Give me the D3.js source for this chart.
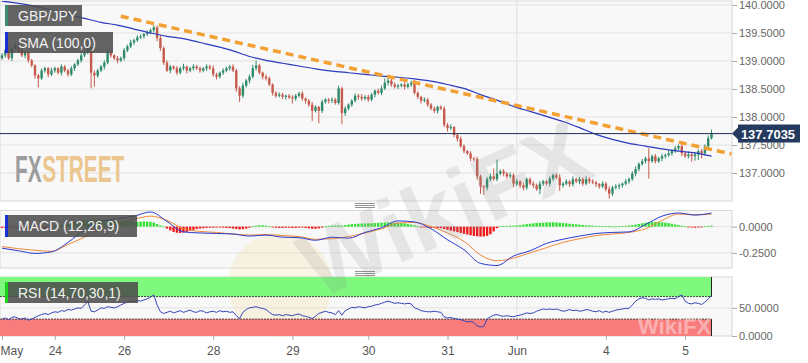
<!DOCTYPE html>
<html>
<head>
<meta charset="utf-8">
<script src="https://cdn.jsdelivr.net/npm/d3@7"></script>
<style>
  body { margin: 0; background: #fff; }
  svg { display: block; font-family: "Liberation Sans", Arial, sans-serif; }
</style>
</head>
<body>
<script>
// hourly GBP/JPY closes
const closes = [
  139.10,139.19,139.05,139.23,139.28,139.19,139.10,139.15,139.01,138.92,
  138.74,138.69,138.83,138.87,138.76,138.83,138.87,138.79,138.90,138.83,
  138.76,138.87,138.94,139.01,139.10,139.15,139.24,138.79,138.74,138.83,
  138.90,138.97,139.15,139.10,139.05,139.01,139.05,139.19,139.26,139.33,
  139.37,139.42,139.44,139.48,139.51,139.55,139.60,139.41,139.23,138.97,
  138.83,138.90,138.87,138.79,138.87,138.90,138.83,138.87,138.90,138.87,
  138.83,138.87,138.90,138.87,138.76,138.72,138.79,138.83,138.87,138.90,
  138.83,138.51,138.38,138.56,138.65,138.72,138.87,138.92,138.79,138.72,
  138.69,138.58,138.43,138.38,138.40,138.36,138.38,138.35,138.33,138.38,
  138.42,138.33,138.29,138.22,138.11,138.18,138.11,138.27,138.31,138.29,
  138.31,138.25,138.51,138.07,138.15,138.22,138.29,138.38,138.36,138.33,
  138.36,138.31,138.40,138.47,138.43,138.51,138.61,138.65,138.58,138.54,
  138.56,138.58,138.54,138.58,138.61,138.43,138.36,138.29,138.31,138.22,
  138.15,138.11,138.18,138.15,137.86,137.80,137.82,137.68,137.61,137.48,
  137.39,137.35,137.26,137.25,136.94,136.76,136.74,136.89,136.94,136.89,
  136.99,137.03,136.99,136.94,136.96,136.81,136.85,136.78,136.74,136.89,
  136.81,136.78,136.71,136.81,136.85,136.81,136.90,136.96,136.92,136.78,
  136.81,136.85,136.80,136.89,136.85,136.89,136.81,136.89,136.85,136.83,
  136.80,136.76,136.81,136.71,136.63,136.74,136.76,136.78,136.81,136.85,
  136.89,136.99,137.07,137.16,137.21,137.26,137.21,137.30,137.21,137.26,
  137.30,137.32,137.35,137.39,137.44,137.48,137.35,137.30,137.33,137.30,
  137.33,137.39,137.35,137.48,137.62,137.7035
];
const firstOpen = 139.05;
// wick lengths above / below the body, in hundredths of a yen
const wickUp = [
  4,3,5,3,6,2,4,3,2,3, 2,3,4,3,2,5,3,2,4,3, 3,4,2,3,5,3,12,3,4,3,
  3,4,5,3,2,4,3,4,3,5, 3,4,3,2,4,3,4,3,5,3, 4,3,2,4,3,5,2,3,4,3,
  3,2,4,3,5,3,2,4,3,3, 4,3,4,5,3,4,6,9,3,2, 4,3,2,3,4,3,2,3,4,3,
  3,4,2,3,5,3,2,4,3,3, 4,3,5,3,4,2,3,4,3,5, 3,4,3,2,4,5,8,10,3,4,
  3,2,4,3,4,5,3,2,4,3, 3,4,2,3,4,3,5,2,3,4, 3,2,4,3,4,3,2,4,5,14,
  25,3,4,3,5,3,4,2,5,3, 3,4,3,5,3,2,4,3,4,6, 3,4,2,5,3,4,3,5,3,4,
  3,2,4,3,5,3,4,3,2,4, 3,4,5,3,4,3,18,3,4,3, 4,3,5,3,4,3,4,3,5,3,
  4,3,4,3,5,7
];
const wickDn = [
  3,4,3,5,3,4,3,5,4,3, 6,16,3,4,5,3,4,3,5,3, 4,3,5,3,4,3,3,28,20,4,
  3,5,3,4,3,5,3,4,3,3, 4,3,3,4,3,3,4,6,5,4, 3,5,3,4,3,4,5,3,4,3,
  4,3,5,3,4,5,3,4,3,4, 3,6,11,4,3,5,3,4,3,5, 4,3,5,4,3,4,5,3,9,4,
  3,4,5,4,18,3,22,4,3,5, 4,3,3,20,5,3,4,3,5,4, 3,4,3,5,3,4,3,5,4,3,
  4,3,5,3,4,3,4,5,3,4, 3,4,5,3,4,6,3,4,5,3, 4,3,5,4,6,13,13,5,4,3,
  4,3,5,4,3,6,4,5,5,4, 3,5,3,9,4,3,5,4,3,10, 4,3,5,4,3,5,4,3,4,3,
  5,4,3,4,9,4,3,5,4,3, 4,3,5,4,3,4,31,3,4,3, 5,4,3,4,3,4,5,3,4,10,
  8,10,9,4,3,2
];

// indicator lines sampled every 5 candles
const lineStep = 5;
const smaVals = [
  140.07,140.03,139.98,139.91,139.83,139.76,139.69,139.64,139.57,139.50,
  139.44,139.40,139.33,139.26,139.18,139.08,139.01,138.96,138.91,138.86,
  138.82,138.79,138.76,138.73,138.71,138.68,138.64,138.58,138.51,138.40,
  138.30,138.19,138.10,138.01,137.92,137.81,137.69,137.60,137.53,137.48,
  137.43,137.39,137.36,137.30
];
const macdVals = [
  -0.205,-0.23,-0.255,-0.24,-0.15,-0.03,0.05,0.075,0.10,0.14,
  0.05,-0.05,-0.06,-0.065,-0.07,-0.09,-0.08,-0.10,-0.105,-0.13,
  -0.10,-0.11,-0.055,-0.01,0.055,0.045,-0.02,-0.125,-0.22,-0.35,
  -0.37,-0.28,-0.23,-0.16,-0.12,-0.09,-0.065,-0.055,-0.05,0.02,
  0.10,0.13,0.11,0.13
];
const signalVals = [
  -0.19,-0.21,-0.225,-0.235,-0.17,-0.10,-0.02,0.03,0.07,0.10,
  0.06,-0.02,-0.045,-0.055,-0.07,-0.08,-0.075,-0.085,-0.095,-0.12,
  -0.115,-0.095,-0.06,-0.02,0.035,0.04,0.0,-0.06,-0.14,-0.27,
  -0.325,-0.30,-0.25,-0.20,-0.15,-0.115,-0.085,-0.07,-0.055,-0.02,
  0.06,0.12,0.115,0.12
];
// MACD histogram per candle, in thousandths
const histVals = [
  -12,-10,-8,-6,-4, -15,-20,-25,-28,-30,-30,-28,-25, -15,-8,-3,3,
  10,18,25,32,38,44, 50,55,60,64,66,68,68,66,
  64,62,60,58,56,54,52,50,48,46, 46,48,50,48,45,40, 25,12,2,
  -18,-35,-50,-58,-60,-56,-50,-40,-30,
  -22,-18,-15,-12,-10,-10,-8,-8,-10,-12,-14, -18,-22,-26,-24,-18,-10,
  5,10,14,14,10,5, -6,-10,-12,-12,-10,-10,-12,-12,-10,-8,
  -12,-16,-20,-20,-16,-10, 4,8,10,12,12,10,
  15,20,24,26,28,30,30,32,32,34, 36,38,40,40,38,38,36,34,32, 26,20,12,5,
  -5,-8,-10,-12,-12,-14,
  -15,-22,-30,-38,-45,-52,-60,-68,-75,-82,-88,-92,-95,-94,-88,-72,-45, -15,
  4,6,8,10,10,12,
  15,20,25,28,32,35,36,38,40,42,42,40,38,35,32,28,25,22,20,
  16,14,12,10,8,6,5,4, 3,2,2,3,5,8,12,
  16,20,26,32,38,42,45,45,44,42,38,34,28,22,16,10,5,
  -4,-8,-10,-8,-4, 4,8,10
];
const rsiVals = [
  30,32,29,33,34,31,30,32,28,30, 33,36,38, 40,38,41, 43, 42,45,44,
  47,46,48,50,49, 55,61, 44,43,46, 50,49,52,51,50,52,
  55,58,60,62,61,63,62, 64,66,69, 73, 55,43,
  40,42,44,41,43,45,42,44,46,43,42,45,44,41,43,44,42,45,43,44,42,43,
  36,31, 42,47,50,51,52,50,49,47,
  42,38,37,38,36,38,37,36,38,39,36,35, 33,31,35, 40,42,44,42,41,
  38,45,37, 45,48,51,50,52,51,50,52,53, 55,56,58,60,62,60,58,
  59,58,57,58,57, 50,48,45,44,43,43,44,43,42, 34,32,33,31,30,29,
  27,25,26,24, 18,16,17, 30,34,37, 38,36,35,36,35,34,36,
  37,39,41,40,41, 44,46,48,47,48,47,48,
  46,44,45,47,45,46,44,45,47,46,44,43,45,42,44,
  42,44,46,47,48,49,49, 55,62,66,68,67,
  64,66,65,66,64,65,66,67,66, 70,73, 62,58,57,59,58, 56, 60,66,72
];

const dayTicks = [0, 16, 37, 64, 88, 111, 135, 156, 183, 207];
const dayLabels = ["May", "24", "26", "28", "29", "30", "31", "Jun", "4", "5"];
const priceTicks = [137, 137.5, 138, 138.5, 139, 139.5, 140];
const macdTicks = [0, -0.25];
const rsiTicks = [0, 50];
const lastPrice = 137.7035;
const trendIdx = [36, 221];
const trendPx = [139.80, 137.34];

const W = 808, H = 363, plotR = 732;
const main = {top: 1, bottom: 201};
const macdP = {top: 210.5, bottom: 268};
const rsiP = {top: 277, bottom: 336};

const svg = d3.select(document.body).append('svg')
  .attr('width', W).attr('height', H);

const x = d3.scaleLinear().domain([0, 215]).range([2, 711.5]);
const y = d3.scaleLinear().domain([136.5, 140.071]).range([main.bottom, main.top]);
const ym = d3.scaleLinear().domain([-0.394, 0.154]).range([macdP.bottom, macdP.top]);
const yr = d3.scaleLinear().domain([0, 103]).range([336, 278]);

const defs = svg.append('defs');
[['clipMain', main], ['clipMacd', macdP], ['clipRsi', rsiP]].forEach(([id, p]) => {
  defs.append('clipPath').attr('id', id).append('rect')
    .attr('x', 0).attr('y', p.top).attr('width', plotR).attr('height', p.bottom - p.top);
});

// panel backgrounds
[main, macdP, rsiP].forEach(p => {
  svg.append('rect').attr('x', 0).attr('y', p.top).attr('width', plotR)
    .attr('height', p.bottom - p.top).attr('fill', '#f8f8f8')
    .attr('stroke', '#d8d8d8').attr('stroke-width', 1);
});

// grid lines
svg.append('g').selectAll('line').data(priceTicks).join('line')
  .attr('x1', 0).attr('x2', plotR).attr('y1', d => y(d)).attr('y2', d => y(d))
  .attr('stroke', '#e2e2e2');
svg.append('g').selectAll('line').data(macdTicks).join('line')
  .attr('x1', 0).attr('x2', plotR).attr('y1', d => ym(d)).attr('y2', d => ym(d))
  .attr('stroke', '#e2e2e2');
svg.append('line').attr('x1', 0).attr('x2', plotR)
  .attr('y1', yr(50)).attr('y2', yr(50)).attr('stroke', '#e2e2e2');
[main, macdP, rsiP].forEach(p => {
  svg.append('line').attr('x1', x(156)).attr('x2', x(156))
    .attr('y1', p.top).attr('y2', p.bottom).attr('stroke', '#e0e0e0');
});

// pale logo watermark behind
svg.append('circle').attr('cx', 280).attr('cy', 285).attr('r', 52)
  .attr('fill', '#f3dc9a').attr('opacity', 0.25);

// FXSTREET logo, squeezed into tall narrow letters
const logo = svg.append('g').attr('transform', 'translate(15,182) scale(0.8,1.45)')
  .attr('font-family', '"Liberation Sans", Arial, sans-serif')
  .attr('font-weight', 'bold').attr('font-size', 26);
logo.append('text').attr('x', 0).attr('y', 0).attr('fill', '#9c9c9c').text('FX');
logo.append('text').attr('x', 34).attr('y', 0).attr('fill', '#ebc68e').text('STREET');

// candles
const candles = closes.map((c, i) => {
  const o = i ? closes[i - 1] : firstOpen;
  return {i, o, c, h: Math.max(o, c) + wickUp[i] / 100, l: Math.min(o, c) - wickDn[i] / 100};
});
const cg = svg.append('g').attr('clip-path', 'url(#clipMain)');
const col = d => d.c >= d.o ? '#2f8a68' : '#c65a4c';
cg.selectAll('line.wick').data(candles).join('line').attr('class', 'wick')
  .attr('x1', d => x(d.i)).attr('x2', d => x(d.i))
  .attr('y1', d => y(d.h)).attr('y2', d => y(d.l))
  .attr('stroke', col).attr('stroke-width', 1);
cg.selectAll('rect.body').data(candles).join('rect').attr('class', 'body')
  .attr('x', d => x(d.i) - 1.2).attr('width', 2.4)
  .attr('y', d => y(Math.max(d.o, d.c)))
  .attr('height', d => Math.max(1, Math.abs(y(d.o) - y(d.c))))
  .attr('fill', col);

// SMA(100)
cg.append('path').datum(smaVals)
  .attr('d', d3.line().x((d, k) => x(k * lineStep)).y(d => y(d)).curve(d3.curveMonotoneX))
  .attr('fill', 'none').attr('stroke', '#2b3bbd').attr('stroke-width', 1.2);

// trend line
cg.append('path').datum(trendIdx.map((t, k) => [t, trendPx[k]]))
  .attr('d', d3.line().x(d => x(d[0])).y(d => y(d[1])))
  .attr('stroke', '#f3a033').attr('stroke-width', 3.5)
  .attr('stroke-dasharray', '8,5').attr('fill', 'none');

// last price line
svg.append('line').attr('x1', 0).attr('x2', plotR)
  .attr('y1', y(lastPrice)).attr('y2', y(lastPrice))
  .attr('stroke', '#1f2d5a').attr('stroke-width', 1);

// MACD panel
const mg = svg.append('g').attr('clip-path', 'url(#clipMacd)');
mg.selectAll('rect').data(histVals).join('rect')
  .attr('x', (d, i) => x(i) - 1.2).attr('width', 2.4)
  .attr('y', d => d >= 0 ? ym(d / 1000) : ym(0))
  .attr('height', d => Math.max(0.8, Math.abs(ym(d / 1000) - ym(0))))
  .attr('fill', d => d >= 0 ? '#35e035' : '#f01a1a');
const mline = d3.line().x((d, k) => x(k * lineStep)).y(d => ym(d)).curve(d3.curveMonotoneX);
mg.append('path').datum(signalVals).attr('d', mline)
  .attr('fill', 'none').attr('stroke', '#f0883a').attr('stroke-width', 1);
mg.append('path').datum(macdVals).attr('d', mline)
  .attr('fill', 'none').attr('stroke', '#2a3bd0').attr('stroke-width', 1);

// RSI panel
const rg = svg.append('g').attr('clip-path', 'url(#clipRsi)');
rg.append('rect').attr('x', 0).attr('y', rsiP.top).attr('width', x(215))
  .attr('height', yr(70) - rsiP.top).attr('fill', '#7ef97e');
rg.append('rect').attr('x', 0).attr('y', yr(30)).attr('width', x(215))
  .attr('height', rsiP.bottom - yr(30)).attr('fill', '#f87c7c');
[70, 30].forEach(v => {
  rg.append('line').attr('x1', 0).attr('x2', x(215)).attr('y1', yr(v)).attr('y2', yr(v))
    .attr('stroke', '#222').attr('stroke-width', 0.8).attr('stroke-dasharray', '2,1');
});
rg.append('line').attr('x1', x(215)).attr('x2', x(215)).attr('y1', rsiP.top).attr('y2', yr(70))
  .attr('stroke', '#222');
rg.append('line').attr('x1', x(215)).attr('x2', x(215)).attr('y1', yr(30)).attr('y2', rsiP.bottom)
  .attr('stroke', '#222');
rg.append('path').datum(rsiVals)
  .attr('d', d3.line().x((d, i) => x(i)).y(d => yr(d)))
  .attr('fill', 'none').attr('stroke', '#3545b5').attr('stroke-width', 1);

// WikiFX watermarks on top
svg.append('text').attr('transform', 'translate(318,300) rotate(-24)')
  .attr('font-size', 92).attr('font-weight', 'bold').attr('fill', '#8a8a8a')
  .attr('opacity', 0.16).text('WikiFX');
svg.append('text').attr('x', 638).attr('y', 334)
  .attr('font-size', 22).attr('font-weight', 'bold').attr('fill', '#fff')
  .attr('opacity', 0.4).text('WikiFX');

// drag handles between panels
[203.5, 271.5].forEach(hy => {
  [0, 2, 4].forEach(k => {
    svg.append('line').attr('x1', 355).attr('x2', 375)
      .attr('y1', hy + k).attr('y2', hy + k).attr('stroke', '#777').attr('stroke-width', 0.8);
  });
});

// axes
const styleAxis = g => {
  g.select('.domain').remove();
  g.selectAll('line').attr('stroke', '#aaa');
  g.selectAll('text').attr('fill', '#666').attr('font-size', 11);
};
svg.append('g').attr('transform', `translate(${plotR},0)`)
  .call(d3.axisRight(y).tickValues(priceTicks).tickSize(5).tickPadding(2).tickFormat(d => d.toFixed(4)))
  .call(styleAxis);
svg.append('g').attr('transform', `translate(${plotR},0)`)
  .call(d3.axisRight(ym).tickValues(macdTicks).tickSize(5).tickPadding(2).tickFormat(d => d.toFixed(4)))
  .call(styleAxis);
svg.append('g').attr('transform', `translate(${plotR},0)`)
  .call(d3.axisRight(yr).tickValues(rsiTicks).tickSize(5).tickPadding(2).tickFormat(d => d.toFixed(4)))
  .call(styleAxis);
const xa = svg.append('g').attr('transform', `translate(0,${rsiP.bottom})`)
  .call(d3.axisBottom(x).tickValues(dayTicks).tickSize(4).tickPadding(6)
    .tickFormat((d, k) => dayLabels[k]))
  .call(styleAxis);
xa.selectAll('text').attr('font-size', 12).attr('fill', '#555');
xa.selectAll('text').filter((d, k) => k === 0).attr('text-anchor', 'start').attr('x', -2);

// last price tag (covers part of the 137.5000 label, as in the original)
const ty = y(lastPrice);
svg.append('path')
  .attr('d', `M${plotR},${ty} L${plotR + 6},${ty - 6} L${plotR + 6},${ty - 9} L800,${ty - 9} L800,${ty + 9} L${plotR + 6},${ty + 9} L${plotR + 6},${ty + 6} Z`)
  .attr('fill', '#243a5e');
svg.append('text').attr('x', 768).attr('y', ty + 5).attr('text-anchor', 'middle')
  .attr('fill', '#fff').attr('font-weight', 'bold').attr('font-size', 13).text(lastPrice.toFixed(4));

// legend boxes
function legend(x0, y0, w, h, bar, label) {
  const g = svg.append('g');
  g.append('rect').attr('x', x0).attr('y', y0).attr('width', w).attr('height', h)
    .attr('fill', '#4d4d4d').attr('opacity', 0.88);
  g.append('rect').attr('x', x0).attr('y', y0).attr('width', 3).attr('height', h).attr('fill', bar);
  g.append('text').attr('x', x0 + 13).attr('y', y0 + h / 2 + 5)
    .attr('fill', '#f2f2f2').attr('font-size', 14).text(label);
}
legend(5, 5, 77, 21, '#3a8c6c', 'GBP/JPY');
legend(5, 32, 108, 21, '#1b2fd6', 'SMA (100,0)');
legend(5, 215, 132, 22, '#1b2fd6', 'MACD (12,26,9)');
legend(5, 282, 133, 21, '#19d419', 'RSI (14,70,30,1)');
</script>
</body>
</html>
